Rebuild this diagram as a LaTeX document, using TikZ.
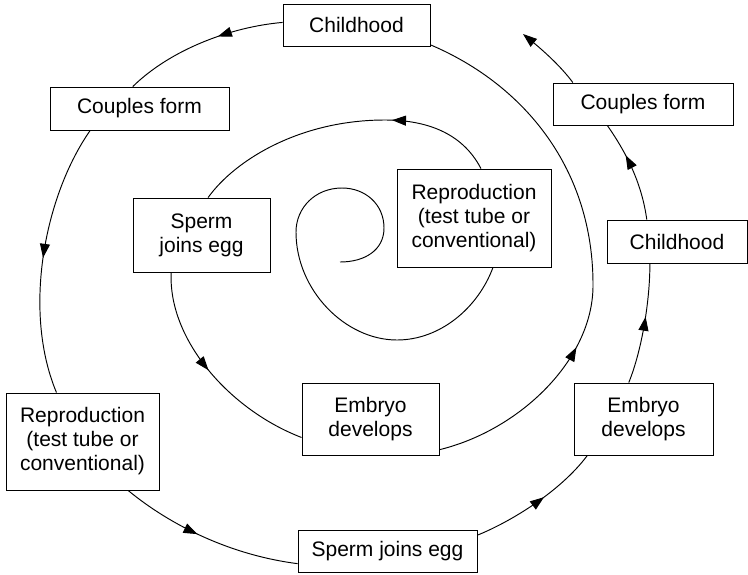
\documentclass[tikz,border=0pt]{standalone}
\usepackage{fontspec}
\setmainfont{Liberation Sans}
\usetikzlibrary{arrows.meta, decorations.markings}

\begin{document}
\begin{tikzpicture}[x=1pt, y=-1pt,
    stage/.style={draw=black, line width=0.9pt, align=center, inner sep=0pt, font=\fontsize{21}{24}\selectfont},
    flow/.style={line width=0.95pt},
    midarrow/.style={postaction={decorate}, decoration={markings, mark=at position #1 with {\arrow{Triangle[length=14pt, width=10pt]}}}}]
    \useasboundingbox (0,0) rectangle (748,574);

    % Stages, inner turn
    \node[stage, minimum width=154pt, minimum height=98pt] (repro1) at (474,218) {Reproduction\\(test tube or\\conventional)};
    \node[stage, minimum width=137pt, minimum height=74pt] (sperm1) at (201.5,235) {Sperm\\joins egg};
    \node[stage, minimum width=137pt, minimum height=72pt] (embryo1) at (370.5,419) {Embryo\\develops};
    \node[stage, minimum width=147pt, minimum height=42pt] (child1) at (356.5,25) {Childhood};
    \node[stage, minimum width=179pt, minimum height=43pt] (couples1) at (139.5,108.5) {Couples form};

    % Stages, outer turn
    \node[stage, minimum width=153pt, minimum height=97pt] (repro2) at (82.5,441.5) {Reproduction\\(test tube or\\conventional)};
    \node[stage, minimum width=179pt, minimum height=42pt] (sperm2) at (387.5,551) {Sperm joins egg};
    \node[stage, minimum width=139pt, minimum height=72pt] (embryo2) at (643.5,419) {Embryo\\develops};
    \node[stage, minimum width=140pt, minimum height=43pt] (child2) at (677,241.5) {Childhood};
    \node[stage, minimum width=180pt, minimum height=42pt] (couples2) at (643,104) {Couples form};

    % Free ends of the spiral
    \coordinate (origin) at (340,262);
    \coordinate (tip) at (523,34);

    % Central curl
    \draw[flow] (origin) .. controls (365,262) and (384,250) .. (384,228)
        .. controls (384,204) and (365,188) .. (342,188)
        .. controls (315,188) and (296,208) .. (296,232)
        .. controls (296,290) and (345,340) .. (397,340)
        .. controls (440,340) and (478,308) .. (repro1.-69);

    % Inner turn
    \draw[flow, midarrow=0.34] (repro1.82) .. controls (462,132) and (425,120) .. (385,120)
        .. controls (300,120) and (235,160) .. (sperm1.80);
    \draw[flow, midarrow=0.48] (sperm1.-129) .. controls (168,340) and (230,410) .. (embryo1.195);
    \draw[flow, midarrow=0.32] (embryo1.-24) .. controls (520,430) and (592,360) .. (593,287)
        .. controls (594,170) and (525,85) .. (child1.-15);
    \draw[flow, midarrow=0.4] (child1.178) .. controls (230,27) and (170,50) .. (couples1.107);

    % Outer turn
    \draw[flow, midarrow=0.5] (couples1.-156) .. controls (45,195) and (22,310) .. (repro2.118);
    \draw[flow, midarrow=0.44] (repro2.-47) .. controls (170,525) and (230,555) .. (sperm2.188);
    \draw[flow, midarrow=0.56] (sperm2.10) .. controls (510,522) and (560,492) .. (embryo2.-147);
    \draw[flow, midarrow=0.56] (embryo2.112) .. controls (642,350) and (650,300) .. (child2.-141);
    \draw[flow, midarrow=0.66] (child2.144) .. controls (642,185) and (628,155) .. (couples2.-149);
    \draw[flow, -{Triangle[length=14pt, width=10pt]}] (couples2.163) .. controls (560,65) and (540,48) .. (tip);
\end{tikzpicture}
\end{document}
